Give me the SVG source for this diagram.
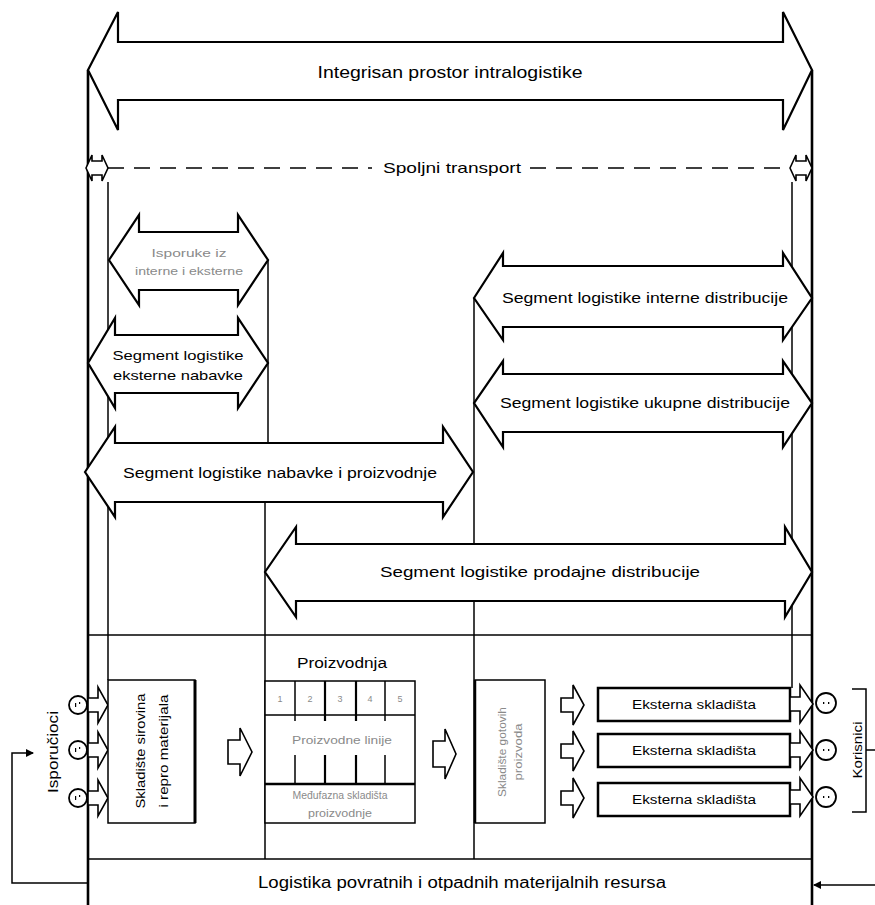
<svg xmlns="http://www.w3.org/2000/svg" width="875" height="905" viewBox="0 0 875 905">
<defs>
<style>
.t{font-family:"Liberation Sans",Arial,sans-serif;fill:#000}
.g{font-family:"Liberation Sans",Arial,sans-serif;fill:#8a8a8a}
.ar{fill:#fff;stroke:#000;stroke-width:2.2;stroke-linejoin:miter}
.ba{fill:#fff;stroke:#000;stroke-width:1.6}
.ln{fill:none;stroke:#000;stroke-width:1.5}
.lt{fill:none;stroke:#000;stroke-width:2.6}
.bx{fill:#fff;stroke:#000;stroke-width:1.5}
.ci{fill:#fff;stroke:#000;stroke-width:1.8}
.fc{fill:#000}
</style>
<marker id="ah" markerWidth="8" markerHeight="8" refX="7" refY="4" orient="auto" markerUnits="userSpaceOnUse">
<path d="M0,0 L8,4 L0,8 Z" fill="#000"/>
</marker>
</defs>
<rect width="875" height="905" fill="#fff"/>

<g id="connectors">
<line class="lt" x1="88" y1="70" x2="88" y2="905"/>
<line class="lt" x1="812" y1="70" x2="812" y2="905"/>
<line class="ln" x1="108" y1="182" x2="108" y2="680"/>
<line class="ln" x1="792" y1="182" x2="792" y2="688"/>
<line class="ln" x1="268" y1="260" x2="268" y2="443"/>
<line class="ln" x1="265" y1="502" x2="265" y2="859"/>
<line class="ln" x1="474" y1="298" x2="474" y2="859"/>
<line class="ln" x1="88" y1="635" x2="812" y2="635"/>
<line class="ln" x1="88" y1="859" x2="812" y2="859"/>
<polyline class="ln" points="88,883 12,883 12,753 33,753" marker-end="url(#ah)"/>
<line class="ln" x1="875" y1="885" x2="814" y2="885" marker-end="url(#ah)"/>
<line x1="108" y1="168" x2="372" y2="168" stroke="#000" stroke-width="1.5" stroke-dasharray="16,10"/>
<line x1="530" y1="168" x2="790" y2="168" stroke="#000" stroke-width="1.5" stroke-dasharray="16,10"/>
</g>

<g id="integrisan">
<path class="ar" d="M88,70 L118,12 L118,42 L783,42 L783,12 L812,70 L783,130 L783,100 L118,100 L118,130 Z"/>
<text class="t" x="450" y="78" font-size="17" text-anchor="middle" textLength="265" lengthAdjust="spacingAndGlyphs">Integrisan prostor intralogistike</text>
</g>

<g id="spoljni">
<path class="ba" d="M86,168 L92,155 L92,161 L102,161 L102,155 L108,168 L102,181 L102,175 L92,175 L92,181 Z"/>
<path class="ba" d="M790,168 L796,155 L796,161 L806,161 L806,155 L812,168 L806,181 L806,175 L796,175 L796,181 Z"/>
<text class="t" x="452" y="173" font-size="15" text-anchor="middle" textLength="138" lengthAdjust="spacingAndGlyphs">Spoljni transport</text>
</g>

<g id="isporuka">
<path class="ar" d="M109,260 L139,215 L139,232 L238,232 L238,215 L268,260 L238,305 L238,290 L139,290 L139,305 Z"/>
<text class="g" x="189" y="257" font-size="10" text-anchor="middle" textLength="75" lengthAdjust="spacingAndGlyphs">Isporuke iz</text>
<text class="g" x="189" y="275" font-size="10" text-anchor="middle" textLength="108" lengthAdjust="spacingAndGlyphs">interne i eksterne</text>
</g>

<g id="eksterne-nabavke">
<path class="ar" d="M88,363 L115,318 L115,335 L238,335 L238,318 L268,363 L238,408 L238,393 L115,393 L115,408 Z"/>
<text class="t" x="178" y="360" font-size="13" text-anchor="middle" textLength="131" lengthAdjust="spacingAndGlyphs">Segment logistike</text>
<text class="t" x="178" y="380" font-size="13" text-anchor="middle" textLength="130" lengthAdjust="spacingAndGlyphs">eksterne nabavke</text>
</g>

<g id="nabavke-proizvodnje">
<path class="ar" d="M85,472 L115,427 L115,443 L443,443 L443,427 L473,472 L443,517 L443,502 L115,502 L115,517 Z"/>
<text class="t" x="280" y="478" font-size="14" text-anchor="middle" textLength="314" lengthAdjust="spacingAndGlyphs">Segment logistike nabavke i proizvodnje</text>
</g>

<g id="interne-distribucije">
<path class="ar" d="M474,298 L503,253 L503,266 L783,266 L783,253 L812,298 L783,340 L783,327 L503,327 L503,340 Z"/>
<text class="t" x="645" y="303" font-size="14" text-anchor="middle" textLength="286" lengthAdjust="spacingAndGlyphs">Segment logistike interne distribucije</text>
</g>

<g id="ukupne-distribucije">
<path class="ar" d="M474,403 L503,361 L503,374 L783,374 L783,361 L812,403 L783,447 L783,432 L503,432 L503,447 Z"/>
<text class="t" x="645" y="408" font-size="14" text-anchor="middle" textLength="290" lengthAdjust="spacingAndGlyphs">Segment logistike ukupne distribucije</text>
</g>

<g id="prodajne-distribucije">
<path class="ar" d="M265,572 L296,527 L296,544 L785,544 L785,527 L812,572 L785,617 L785,601 L296,601 L296,617 Z"/>
<text class="t" x="540" y="577" font-size="15" text-anchor="middle" textLength="320" lengthAdjust="spacingAndGlyphs">Segment logistike prodajne distribucije</text>
</g>

<g id="isporucioci">
<circle class="ci" cx="78" cy="705" r="9"/>
<circle class="ci" cx="78" cy="750" r="9"/>
<circle class="ci" cx="78" cy="798" r="9"/>
<rect class="fc" x="75" y="703" width="1.2" height="4"/><rect class="fc" x="79" y="702" width="1.2" height="2"/>
<rect class="fc" x="75" y="748" width="1.2" height="4"/><rect class="fc" x="79" y="747" width="1.2" height="2"/>
<rect class="fc" x="75" y="796" width="1.2" height="4"/><rect class="fc" x="79" y="795" width="1.2" height="2"/>
<path class="ba" d="M88,698 L98,698 L98,687 L108,705 L98,723 L98,712 L88,712 Z"/>
<path class="ba" d="M88,743 L98,743 L98,732 L108,750 L98,768 L98,757 L88,757 Z"/>
<path class="ba" d="M88,791 L98,791 L98,780 L108,798 L98,816 L98,805 L88,805 Z"/>
<text class="t" transform="translate(58,752) rotate(-90)" font-size="14" text-anchor="middle" textLength="82" lengthAdjust="spacingAndGlyphs">Isporučioci</text>
</g>

<g id="skladiste-sirovina">
<rect class="bx" x="108" y="680" width="87" height="143"/>
<line x1="195" y1="680" x2="195" y2="823" stroke="#000" stroke-width="3"/>
<text class="t" transform="translate(145,751) rotate(-90)" font-size="12" text-anchor="middle" textLength="115" lengthAdjust="spacingAndGlyphs">Skladište sirovina</text>
<text class="t" transform="translate(168,751) rotate(-90)" font-size="12" text-anchor="middle" textLength="113" lengthAdjust="spacingAndGlyphs">i repro materijala</text>
</g>

<g id="arrow-1">
<path class="ba" d="M228,740 L240,740 L240,728 L252,752 L240,776 L240,764 L228,764 Z"/>
</g>

<g id="proizvodnja">
<text class="t" x="342" y="668" font-size="14" text-anchor="middle" textLength="90" lengthAdjust="spacingAndGlyphs">Proizvodnja</text>
<rect class="bx" x="265" y="681" width="150" height="142"/>
<line class="ln" x1="265" y1="715" x2="415" y2="715"/>
<line x1="265" y1="784" x2="415" y2="784" stroke="#000" stroke-width="2.5"/>
<line class="ln" x1="295" y1="681" x2="295" y2="715"/>
<line x1="325" y1="681" x2="325" y2="715" stroke="#000" stroke-width="2.2"/>
<line x1="356" y1="681" x2="356" y2="715" stroke="#000" stroke-width="2.2"/>
<line class="ln" x1="385" y1="681" x2="385" y2="715"/>
<line class="ln" x1="295" y1="715" x2="295" y2="721"/>
<line x1="325" y1="715" x2="325" y2="721" stroke="#000" stroke-width="2.2"/>
<line x1="356" y1="715" x2="356" y2="721" stroke="#000" stroke-width="2.2"/>
<line class="ln" x1="385" y1="715" x2="385" y2="721"/>
<line class="ln" x1="295" y1="755" x2="295" y2="784"/>
<line x1="325" y1="755" x2="325" y2="784" stroke="#000" stroke-width="2.2"/>
<line x1="356" y1="755" x2="356" y2="784" stroke="#000" stroke-width="2.2"/>
<line class="ln" x1="385" y1="755" x2="385" y2="784"/>
<text class="g" x="280" y="702" font-size="9" text-anchor="middle">1</text>
<text class="g" x="310" y="702" font-size="9" text-anchor="middle">2</text>
<text class="g" x="340" y="702" font-size="9" text-anchor="middle">3</text>
<text class="g" x="370" y="702" font-size="9" text-anchor="middle">4</text>
<text class="g" x="400" y="702" font-size="9" text-anchor="middle">5</text>
<text class="g" x="342" y="744" font-size="10" text-anchor="middle" textLength="100" lengthAdjust="spacingAndGlyphs">Proizvodne linije</text>
<text class="g" x="340" y="799" font-size="10" text-anchor="middle" textLength="95" lengthAdjust="spacingAndGlyphs">Međufazna skladišta</text>
<text class="g" x="340" y="817" font-size="10" text-anchor="middle" textLength="64" lengthAdjust="spacingAndGlyphs">proizvodnje</text>
</g>

<g id="arrow-2">
<path class="ba" d="M433,741 L445,741 L445,729 L456,754 L445,779 L445,767 L433,767 Z"/>
</g>

<g id="skladiste-gotovih">
<rect class="bx" x="475" y="680" width="70" height="143"/>
<line x1="475" y1="680" x2="475" y2="823" stroke="#000" stroke-width="2.5"/>
<text class="g" transform="translate(506,752) rotate(-90)" font-size="10" text-anchor="middle" textLength="90" lengthAdjust="spacingAndGlyphs">Skladište gotovih</text>
<text class="g" transform="translate(522,752) rotate(-90)" font-size="10" text-anchor="middle" textLength="57" lengthAdjust="spacingAndGlyphs">proizvoda</text>
</g>

<g id="arrows-3">
<path class="ba" d="M561,698 L573,698 L573,685 L584,705 L573,725 L573,712 L561,712 Z"/>
<path class="ba" d="M561,744 L573,744 L573,731 L584,751 L573,771 L573,758 L561,758 Z"/>
<path class="ba" d="M561,791 L573,791 L573,778 L584,798 L573,818 L573,805 L561,805 Z"/>
</g>

<g id="eksterna-1">
<rect x="598" y="688" width="192" height="33" fill="#fff" stroke="#000" stroke-width="2.5"/>
<text class="t" x="694" y="709" font-size="12" text-anchor="middle" textLength="124" lengthAdjust="spacingAndGlyphs">Eksterna skladišta</text>
</g>
<g id="eksterna-2">
<rect x="598" y="734" width="192" height="33" fill="#fff" stroke="#000" stroke-width="2.5"/>
<text class="t" x="694" y="755" font-size="12" text-anchor="middle" textLength="124" lengthAdjust="spacingAndGlyphs">Eksterna skladišta</text>
</g>
<g id="eksterna-3">
<rect x="598" y="783" width="192" height="33" fill="#fff" stroke="#000" stroke-width="2.5"/>
<text class="t" x="694" y="804" font-size="12" text-anchor="middle" textLength="124" lengthAdjust="spacingAndGlyphs">Eksterna skladišta</text>
</g>

<g id="korisnici">
<path class="ba" d="M790,697 L800,697 L800,685 L813,704 L800,723 L800,711 L790,711 Z"/>
<path class="ba" d="M790,743 L800,743 L800,731 L813,750 L800,769 L800,757 L790,757 Z"/>
<path class="ba" d="M790,790 L800,790 L800,778 L813,797 L800,816 L800,804 L790,804 Z"/>
<circle class="ci" cx="826" cy="703" r="10"/>
<circle class="ci" cx="826" cy="750" r="10"/>
<circle class="ci" cx="826" cy="797" r="10"/>
<rect class="fc" x="823" y="702" width="1.3" height="2"/><rect class="fc" x="828" y="702" width="1.3" height="2"/>
<rect class="fc" x="823" y="749" width="1.3" height="2"/><rect class="fc" x="828" y="749" width="1.3" height="2"/>
<rect class="fc" x="823" y="796" width="1.3" height="2"/><rect class="fc" x="828" y="796" width="1.3" height="2"/>
<path class="ln" d="M852,689 H866 V812 H852 M866,750 H875"/>
<text class="t" transform="translate(862,750) rotate(-90)" font-size="13" text-anchor="middle" textLength="57" lengthAdjust="spacingAndGlyphs">Korisnici</text>
</g>

<g id="povratna-logistika">
<text class="t" x="462" y="888" font-size="16" text-anchor="middle" textLength="408" lengthAdjust="spacingAndGlyphs">Logistika povratnih i otpadnih materijalnih resursa</text>
</g>
</svg>
